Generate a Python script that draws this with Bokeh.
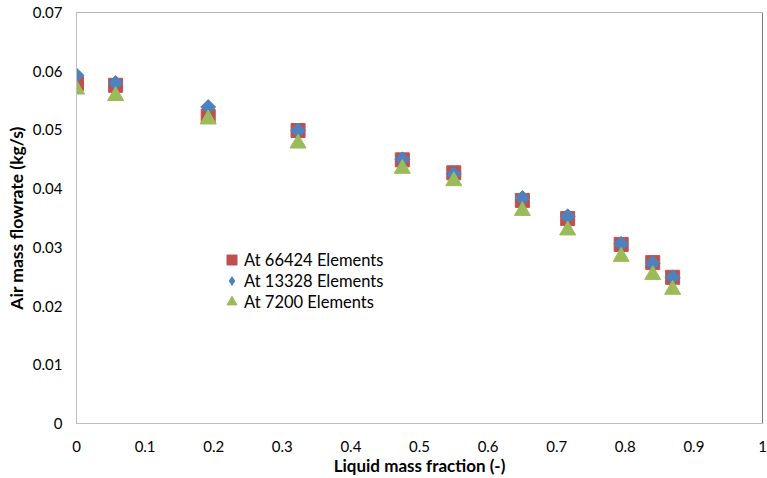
from bokeh.plotting import figure
from bokeh.models import Range1d, FixedTicker, Legend, LegendItem, Span
from bokeh.embed import file_html
from bokeh.resources import INLINE
import numpy as np

# ---- data ----
liquid_fraction = [0.0, 0.057, 0.192, 0.323, 0.475, 0.550, 0.650, 0.716, 0.794, 0.840, 0.869]
flow_66424 = [0.0579, 0.0576, 0.0523, 0.0499, 0.0449, 0.0427, 0.0380, 0.0349, 0.0305, 0.0274, 0.0249]
flow_13328 = [0.0593, 0.0580, 0.0539, 0.0499, 0.0450, 0.0425, 0.0384, 0.0353, 0.0306, 0.0273, 0.0249]
flow_7200 = [0.0569, 0.0558, 0.0518, 0.0477, 0.0434, 0.0413, 0.0362, 0.0329, 0.0284, 0.0253, 0.0228]
series_names = ["At 66424 Elements", "At 13328 Elements", "At 7200 Elements"]

x_ticks = [0.0, 0.1, 0.2, 0.3, 0.4, 0.5, 0.6, 0.7, 0.8, 0.9, 1.0]
x_tick_labels = ["0", "0.1", "0.2", "0.3", "0.4", "0.5", "0.6", "0.7", "0.8", "0.9", "1"]
y_ticks = [0.0, 0.01, 0.02, 0.03, 0.04, 0.05, 0.06, 0.07]
y_tick_labels = ["0", "0.01", "0.02", "0.03", "0.04", "0.05", "0.06", "0.07"]
x_title = "Liquid mass fraction (-)"
y_title = "Air mass flowrate (kg/s)"

FONT = "Lato"
RED, BLUE, GREEN = "#C0504D", "#4F81BD", "#9BBB59"

p = figure(width=767, height=478, output_backend="svg", toolbar_location=None,
           x_range=Range1d(x_ticks[0], x_ticks[-1]), y_range=Range1d(y_ticks[0], y_ticks[-1]),
           min_border_left=76, min_border_top=12, min_border_right=5, min_border_bottom=55)

p.xgrid.visible = False
p.ygrid.visible = False
p.outline_line_color = "#B3B3B3"
p.background_fill_color = "white"
p.border_fill_color = "white"

p.xaxis.ticker = FixedTicker(ticks=x_ticks)
p.yaxis.ticker = FixedTicker(ticks=y_ticks)
p.xaxis.major_label_overrides = {t: l for t, l in zip(x_ticks, x_tick_labels)}
p.yaxis.major_label_overrides = {t: l for t, l in zip(y_ticks, y_tick_labels)}

for ax in (p.xaxis, p.yaxis):
    ax.axis_line_color = "#BFBFBF"
    ax.major_tick_line_color = None
    ax.minor_tick_line_color = None
    ax.major_tick_out = 0
    ax.major_tick_in = 0
    ax.major_label_text_font = FONT
    ax.major_label_text_font_size = "15px"
    ax.major_label_text_color = "black"
    ax.axis_label_text_font = FONT
    ax.axis_label_text_font_style = "bold"
    ax.axis_label_text_color = "black"

p.xaxis.axis_label_text_font_size = "17px"
p.yaxis.axis_label_text_font_size = "17.5px"
p.xaxis.major_label_standoff = 17
p.yaxis.major_label_standoff = 14
p.xaxis.axis_label = x_title
p.yaxis.axis_label = y_title
p.xaxis.axis_label_standoff = 0
p.yaxis.axis_label_standoff = 3

# right border of the chart area
p.add_layout(Span(location=x_ticks[-1], dimension="height", line_color="#404040", line_width=1))

r1 = p.scatter(liquid_fraction, flow_66424, marker="square", size=14,
               fill_color=RED, line_color=RED)
r2 = p.scatter(liquid_fraction, flow_13328, marker="square", angle=np.pi / 4, size=10.5,
               fill_color=BLUE, line_color=BLUE)
r3 = p.scatter(liquid_fraction, flow_7200, marker="triangle", size=16,
               fill_color=GREEN, line_color=GREEN)
# zero-size twin of the diamond series, used only so the legend key is a diamond
r2_key = p.scatter(liquid_fraction, flow_13328, marker="diamond", size=0,
                   fill_color=BLUE, line_color=None)

legend_rows = [(series_names[0], r1, 151), (series_names[1], r2_key, 130), (series_names[2], r3, 109)]
for name, rend, ypos in legend_rows:
    lg = Legend(items=[LegendItem(label=name, renderers=[rend])],
                location=(143, ypos), glyph_width=25, glyph_height=25, label_height=21,
                spacing=0, padding=0, margin=0, border_line_color=None,
                background_fill_alpha=0, label_standoff=0,
                label_text_font=FONT, label_text_font_size="16.5px", label_text_color="black")
    p.add_layout(lg)

open("out.html", "w").write(file_html(p, INLINE))
